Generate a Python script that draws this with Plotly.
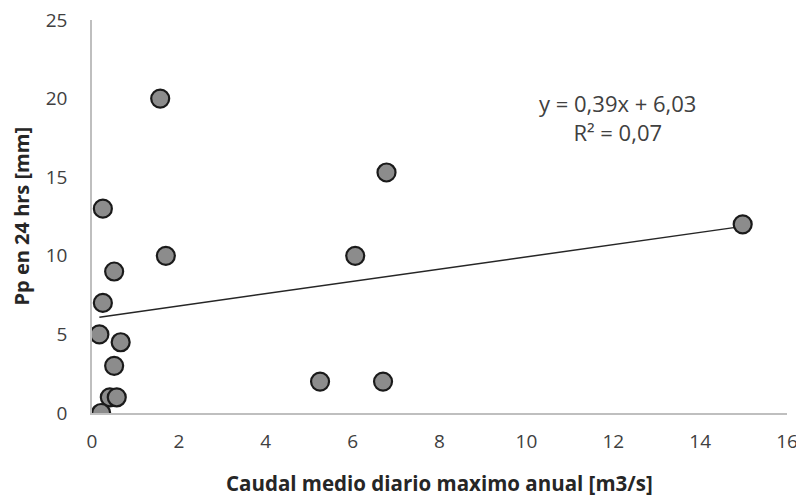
import plotly.graph_objects as go

caudal = [1.57, 0.25, 0.25, 0.51, 1.70, 0.17, 0.66, 0.51, 0.41, 0.57, 0.21, 5.25, 6.70, 6.06, 6.78, 14.98]
pp = [20.0, 13.0, 7.0, 9.0, 10.0, 5.0, 4.5, 3.0, 1.0, 1.0, 0.0, 2.0, 2.0, 10.0, 15.3, 12.0]
slope = 0.39
intercept = 6.03
x_ticks = [0, 2, 4, 6, 8, 10, 12, 14, 16]
y_ticks = [0, 5, 10, 15, 20, 25]

xmin, xmax = min(caudal), max(caudal)
trend_x = [xmin, xmax]
trend_y = [slope * v + intercept for v in trend_x]

fig = go.Figure()
fig.add_trace(go.Scatter(x=trend_x, y=trend_y, mode="lines",
                         line=dict(color="#262626", width=1.5), showlegend=False))
fig.add_trace(go.Scatter(x=caudal, y=pp, mode="markers",
                         marker=dict(size=18, color="#8c8c8c",
                                     line=dict(color="#1a1a1a", width=2.2)),
                         showlegend=False))

fig.add_annotation(x=12.1, y=18.77, xref="x", yref="y", text="y = 0,39x + 6,03<br>R² = 0,07",
                   showarrow=False, font=dict(family="Open Sans", size=22, color="#404040"),
                   align="center")

# axis titles
fig.add_annotation(x=0.5, y=0, xref="paper", yref="paper", yanchor="middle", xanchor="center",
                   yshift=-70, showarrow=False,
                   text="<b>Caudal medio diario maximo anual [m3/s]</b>",
                   font=dict(family="Open Sans", size=20.5, color="#262626"))
fig.add_annotation(x=0, y=0.5, xref="paper", yref="paper", yanchor="middle", xanchor="center",
                   xshift=-71, textangle=-90, showarrow=False, borderpad=0,
                   text="<b>Pp en 24 hrs [mm]</b>",
                   font=dict(family="Open Sans", size=20, color="#262626"))

# page body has an 8px margin, so the figure is sized/offset to compensate
fig.update_layout(
    width=796, height=492,
    margin=dict(l=84, r=17, t=12, b=87, autoexpand=False),
    paper_bgcolor="white", plot_bgcolor="white",
    font=dict(family="Open Sans", color="#404040", size=19),
    xaxis=dict(range=[0, 16], tickvals=x_ticks, showgrid=False, zeroline=False,
               showline=True, linecolor="#bfbfbf", linewidth=1.5,
               ticks="", ticklabelstandoff=10, automargin=False,
               ticklabeloverflow="allow"),
    yaxis=dict(range=[0, 25], tickvals=y_ticks, showgrid=False, zeroline=False,
               showline=True, linecolor="#bfbfbf", linewidth=1.5,
               ticks="", ticklabelstandoff=19, automargin=False,
               ticklabeloverflow="allow"),
)

fig.write_html("out.html")
